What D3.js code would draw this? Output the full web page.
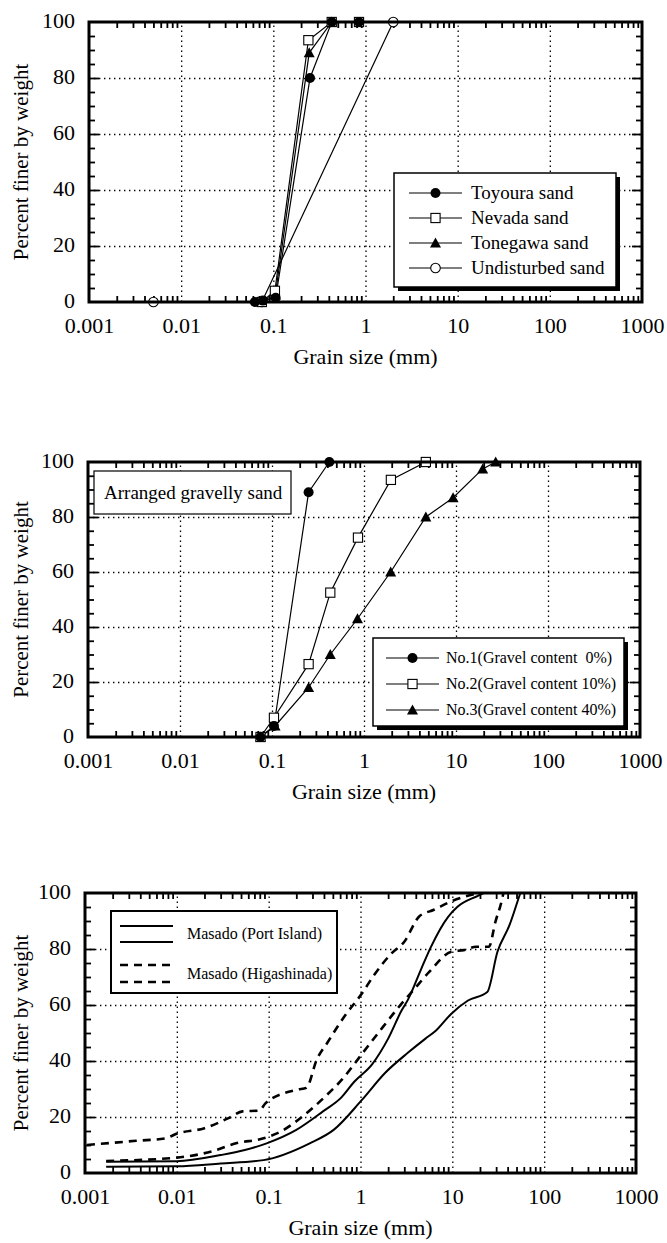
<!DOCTYPE html>
<html>
<head>
<meta charset="utf-8">
<script src="https://cdn.jsdelivr.net/npm/d3@7"></script>
<style>
  body { margin: 0; background: #fff; }
  svg { display: block; }
  svg text { font-family: "Liberation Serif", "DejaVu Serif", serif !important; fill: #000; }
</style>
</head>
<body>
<svg id="chart" width="667" height="1243"></svg>
<script>
// grain size (mm), percent finer
var toyoura     = [[0.063,0],[0.077,0.5],[0.106,1.5],[0.25,80],[0.43,100],[0.85,100]]
var nevada      = [[0.075,0],[0.104,4],[0.24,93.5],[0.43,100],[0.85,100]]
var tonegawa    = [[0.07,0],[0.105,2.5],[0.245,89],[0.43,100]]
var undisturbed = [[0.005,0],[0.075,0],[2.0,100]]

var gravel0  = [[0.075,0],[0.105,4],[0.25,89],[0.42,100]]
var gravel10 = [[0.075,0],[0.105,7],[0.25,26.5],[0.43,52.5],[0.86,72.5],[1.96,93.5],[4.7,100]]
var gravel40 = [[0.075,0],[0.108,4],[0.25,18],[0.43,30],[0.85,43],[1.95,60],[4.7,80],[9.3,87],[19.5,97.5],[27,100]]

var portFine   = [[0.0017,4],[0.01,4.2],[0.03,6.4],[0.055,8.2],[0.095,10.6],[0.2,15.4],[0.39,22],[0.62,27],[0.85,32.5],[1.35,39],[2.0,48],[2.8,58],[3.3,62],[4.6,73],[5.8,80.5],[9.0,91.5],[11.3,95],[19,99],[22,100]]
var portCoarse = [[0.0017,2.2],[0.01,2.4],[0.03,3.4],[0.088,4.6],[0.28,10.6],[0.51,15.4],[1.03,26],[1.86,35.8],[3.3,43],[5.1,48],[6.6,50.8],[9.7,56.8],[14.8,61.6],[24,64.6],[31,79],[42,88.6],[52,97.6],[55,100]]
var higaFine   = [[0.00105,10],[0.0036,11.5],[0.0076,12.4],[0.0099,14],[0.02,16],[0.0376,19.8],[0.052,22],[0.079,22.3],[0.093,25],[0.207,29.8],[0.257,30.4],[0.335,40.6],[0.437,46.6],[0.67,56],[1.03,64],[1.4,70.6],[2.17,78.4],[3.0,82.6],[4.35,91.6],[6.3,94],[9.7,97],[19.3,100]]
var higaCoarse = [[0.0017,4.3],[0.01,5.5],[0.0245,7.8],[0.044,10.6],[0.088,12.4],[0.135,14.8],[0.23,20],[0.415,27.4],[0.63,33.4],[1.03,42.4],[1.74,52],[2.69,59.8],[3.7,65],[5.6,71.8],[9.7,79],[13.3,79.6],[18.2,80.8],[25,80.8],[29.5,89.8],[34.7,97.6],[36,100]]

var decades = [0.001,0.01,0.1,1,10,100,1000]
var decadeLabels = ["0.001","0.01","0.1","1","10","100","1000"]
var pctTicks = [0,20,40,60,80,100]

var svg = d3.select("#chart")

var minorLog = []
decades.slice(0,6).forEach(function(d){
    for (var k=2;k<10;k++) minorLog.push(d*k)
})
var minorPct = d3.range(5,100,5).filter(function(v){ return v%20!=0 })

var makePanel = function(box)
{
    var p = {}
    p.box = box
    p.x = d3.scaleLog().domain([0.001,1000]).range([box.left, box.right])
    p.y = d3.scaleLinear().domain([0,100]).range([box.bottom, box.top])
    p.g = svg.append("g")
    return p
}

var drawAxes = function(p)
{
    var b = p.box, h = b.bottom-b.top, w = b.right-b.left
    var g = p.g

    // dotted grid
    var grid = g.append("g").attr("class","grid")
    grid.append("g")
        .attr("transform","translate(0,"+b.bottom+")")
        .call(d3.axisBottom(p.x).tickValues(decades.slice(1,6)).tickSize(-h).tickFormat(""))
    grid.append("g")
        .attr("transform","translate("+b.left+",0)")
        .call(d3.axisLeft(p.y).tickValues([20,40,60,80]).tickSize(-w).tickFormat(""))
    grid.selectAll(".domain").remove()
    grid.selectAll("line")
        .attr("stroke","#000")
        .attr("stroke-width",1.3)
        .attr("stroke-dasharray","1.4,3.6")

    // inward ticks on all four sides
    var ticks = g.append("g")
    ticks.append("g").attr("transform","translate(0,"+b.bottom+")")
        .call(d3.axisBottom(p.x).tickValues(minorLog).tickSize(-6).tickFormat(""))
    ticks.append("g").attr("transform","translate(0,"+b.top+")")
        .call(d3.axisTop(p.x).tickValues(minorLog).tickSize(-6).tickFormat(""))
    ticks.append("g").attr("transform","translate("+b.left+",0)")
        .call(d3.axisLeft(p.y).tickValues(minorPct).tickSize(-6).tickFormat(""))
    ticks.append("g").attr("transform","translate("+b.right+",0)")
        .call(d3.axisRight(p.y).tickValues(minorPct).tickSize(-6).tickFormat(""))
    ticks.append("g").attr("transform","translate("+b.left+",0)")
        .call(d3.axisLeft(p.y).tickValues([20,40,60,80]).tickSize(-10).tickFormat(""))
    ticks.append("g").attr("transform","translate("+b.right+",0)")
        .call(d3.axisRight(p.y).tickValues([20,40,60,80]).tickSize(-10).tickFormat(""))
    ticks.selectAll(".domain").remove()
    ticks.selectAll("line").attr("stroke","#000").attr("stroke-width",1.8)

    // tick labels
    var xl = g.append("g").attr("transform","translate(0,"+b.bottom+")")
        .call(d3.axisBottom(p.x).tickValues(decades).tickSize(0).tickPadding(15)
            .tickFormat(function(d,i){ return decadeLabels[i] }))
    var yl = g.append("g").attr("transform","translate("+b.left+",0)")
        .call(d3.axisLeft(p.y).tickValues(pctTicks).tickSize(0).tickPadding(14))
    xl.selectAll(".domain").remove()
    yl.selectAll(".domain").remove()
    xl.attr("font-size",22).attr("font-family",null)
    yl.attr("font-size",22).attr("font-family",null)
    yl.selectAll("text").attr("dy","0.24em")

    // titles
    g.append("text")
        .text("Grain size (mm)")
        .attr("text-anchor","middle")
        .attr("font-size",22)
        .attr("x",(b.left+b.right)/2)
        .attr("y",b.bottom+62)
    g.append("g")
        .attr("transform","translate(28,"+((b.top+b.bottom)/2)+")")
        .append("text")
        .text("Percent finer by weight")
        .attr("text-anchor","middle")
        .attr("font-size",21)
        .attr("transform","rotate(270)")
}

var drawFrame = function(p)
{
    var b = p.box
    p.g.append("rect")
        .attr("x",b.left).attr("y",b.top)
        .attr("width",b.right-b.left).attr("height",b.bottom-b.top)
        .attr("fill","none").attr("stroke","#000").attr("stroke-width",3)
}

var drawMarker = function(g, kind, cx, cy)
{
    if (kind=="dot")
        g.append("circle").attr("cx",cx).attr("cy",cy).attr("r",5).attr("fill","#000")
    else if (kind=="ring")
        g.append("circle").attr("cx",cx).attr("cy",cy).attr("r",4.8)
            .attr("fill","#fff").attr("stroke","#000").attr("stroke-width",1.1)
    else if (kind=="square")
        g.append("rect").attr("x",cx-4.6).attr("y",cy-4.6).attr("width",9.2).attr("height",9.2)
            .attr("fill","#fff").attr("stroke","#000").attr("stroke-width",1.1)
    else if (kind=="tri")
        g.append("path").attr("d","M"+cx+","+(cy-5.5)+"L"+(cx+5.5)+","+(cy+4.5)+"L"+(cx-5.5)+","+(cy+4.5)+"Z")
            .attr("fill","#000")
}

var drawSeries = function(p, series)
{
    var line = d3.line()
        .x(function(d){ return p.x(d[0]) })
        .y(function(d){ return p.y(d[1]) })
    series.forEach(function(s){
        p.g.append("path")
            .datum(s.data)
            .attr("d",line)
            .attr("fill","none")
            .attr("stroke","#000")
            .attr("stroke-width",1.2)
    })
    series.forEach(function(s){
        var mg = p.g.append("g")
        s.data.forEach(function(d){
            drawMarker(mg, s.marker, p.x(d[0]), p.y(d[1]))
        })
    })
}

var drawCurves = function(p, series)
{
    var line = d3.line()
        .x(function(d){ return p.x(d[0]) })
        .y(function(d){ return p.y(d[1]) })
        .curve(d3.curveMonotoneX)
    series.forEach(function(s){
        p.g.append("path")
            .datum(s.data)
            .attr("d",line)
            .attr("fill","none")
            .attr("stroke","#000")
            .attr("stroke-width",s.dashed ? 2.6 : 2)
            .attr("stroke-dasharray",s.dashed ? "8,6" : null)
    })
}

var drawLegend = function(p, lg, items)
{
    var g = p.g.append("g")
    if (lg.shadow)
        g.append("rect").attr("x",lg.x+4).attr("y",lg.y+4)
            .attr("width",lg.w).attr("height",lg.h).attr("fill","#000")
    g.append("rect").attr("x",lg.x).attr("y",lg.y)
        .attr("width",lg.w).attr("height",lg.h)
        .attr("fill","#fff").attr("stroke","#000").attr("stroke-width",lg.stroke)
    items.forEach(function(it,i){
        var ry = lg.rowY + i*lg.rowH
        g.append("line").attr("x1",lg.lineX1).attr("x2",lg.lineX2)
            .attr("y1",ry).attr("y2",ry)
            .attr("stroke","#000").attr("stroke-width",1.2)
        drawMarker(g, it.marker, (lg.lineX1+lg.lineX2)/2, ry)
        g.append("text").text(it.label)
            .attr("x",lg.textX).attr("y",ry+lg.fontSize*0.33)
            .attr("font-size",lg.fontSize)
            .attr("xml:space","preserve")
    })
}

// panel 1
var p1 = makePanel({left:89, right:642, top:22, bottom:302})
drawAxes(p1)
drawSeries(p1, [
    {data:undisturbed, marker:"ring"},
    {data:tonegawa, marker:"tri"},
    {data:nevada, marker:"square"},
    {data:toyoura, marker:"dot"}
])
drawLegend(p1, {x:394, y:173, w:222, h:114, stroke:1.5, shadow:true,
        rowY:193, rowH:25, lineX1:409, lineX2:462, textX:471, fontSize:19},
    [{marker:"dot",label:"Toyoura sand"},
     {marker:"square",label:"Nevada sand"},
     {marker:"tri",label:"Tonegawa sand"},
     {marker:"ring",label:"Undisturbed sand"}])
drawFrame(p1)

// panel 2
var p2 = makePanel({left:88, right:640, top:462, bottom:737})
drawAxes(p2)
drawSeries(p2, [
    {data:gravel40, marker:"tri"},
    {data:gravel10, marker:"square"},
    {data:gravel0, marker:"dot"}
])
p2.g.append("rect").attr("x",94).attr("y",471).attr("width",197).attr("height",43)
    .attr("fill","#fff").attr("stroke","#000").attr("stroke-width",1.2)
p2.g.append("text").text("Arranged gravelly sand")
    .attr("x",104).attr("y",499).attr("font-size",19)
drawLegend(p2, {x:373, y:638, w:251, h:88, stroke:1.5, shadow:true,
        rowY:658, rowH:26, lineX1:386, lineX2:439, textX:446, fontSize:16},
    [{marker:"dot",label:"No.1(Gravel content  0%)"},
     {marker:"square",label:"No.2(Gravel content 10%)"},
     {marker:"tri",label:"No.3(Gravel content 40%)"}])
drawFrame(p2)

// panel 3
var p3 = makePanel({left:85, right:636, top:893, bottom:1173})
drawAxes(p3)
drawCurves(p3, [
    {data:portFine, dashed:false},
    {data:portCoarse, dashed:false},
    {data:higaFine, dashed:true},
    {data:higaCoarse, dashed:true}
])
var lg3 = p3.g.append("g")
lg3.append("rect").attr("x",111).attr("y",911).attr("width",226).attr("height",82)
    .attr("fill","#fff").attr("stroke","#000").attr("stroke-width",2)
var legendRows3 = [
    {label:"Masado (Port Island)", y1:926, y2:942, dashed:false},
    {label:"Masado (Higashinada)", y1:965, y2:982, dashed:true}
]
legendRows3.forEach(function(r){
    [r.y1, r.y2].forEach(function(yy){
        lg3.append("line").attr("x1",120).attr("x2",173).attr("y1",yy).attr("y2",yy)
            .attr("stroke","#000").attr("stroke-width",r.dashed ? 2.4 : 2)
            .attr("stroke-dasharray",r.dashed ? "8,6" : null)
    })
    lg3.append("text").text(r.label)
        .attr("x",187).attr("y",(r.y1+r.y2)/2+5).attr("font-size",16)
})
drawFrame(p3)
</script>
</body>
</html>
